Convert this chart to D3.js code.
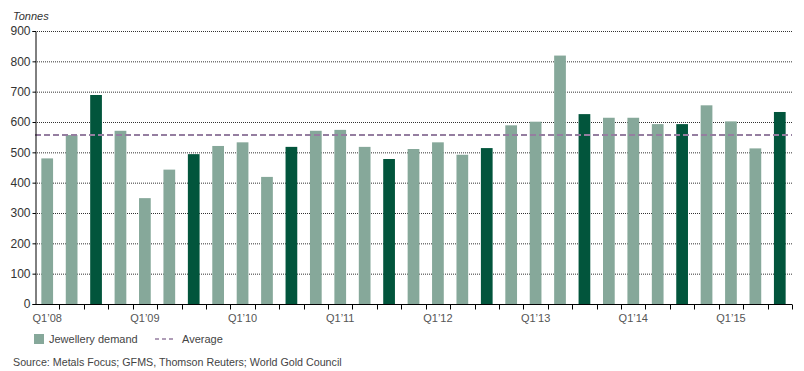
<!DOCTYPE html>
<html>
<head>
<meta charset="utf-8">
<script src="https://cdn.jsdelivr.net/npm/d3@7"></script>
<style>
body{margin:0;background:#fff;}
svg{font-family:"Liberation Sans",Arial,sans-serif;}
</style>
</head>
<body>
<svg id="chart" width="804" height="371"></svg>
<script>
// quarterly jewellery demand, Q1'08 .. Q3'15
const quarters = ['Q1','Q2','Q3','Q4'];
const years = ['08','09','10','11','12','13','14','15'];
const demand = [480,557,689,571, 349,443,494,521, 533,419,518,571, 574,518,478,511,
	533,492,514,589, 601,819,626,614, 614,593,593,655, 602,513,633];
const average = [557];
const yTicks = [0,100,200,300,400,500,600,700,800,900];

const periods = [];
years.forEach(y=>quarters.forEach(q=>periods.push(q+'’'+y)));
const data = demand.map((v,i)=>({period:periods[i],value:v,highlight:(i%4)==2}));

const svg = d3.select('#chart');
const margin = {left:35,right:12,top:31,bottom:67};
const width = 804, height = 371;

const x = d3.scaleBand()
	.domain(data.map(d=>d.period))
	.range([margin.left,width-margin.right])
	.paddingInner(0.52)
	.paddingOuter(0.26);
const y = d3.scaleLinear()
	.domain([0,900])
	.range([height-margin.bottom,margin.top]);

const light = '#86a89a';
const dark = '#02553c';
const avgColor = '#957ea0';

// dotted grid
svg.append('g')
	.selectAll('line')
	.data(yTicks.filter(t=>t>0))
	.join('line')
		.attr('x1',margin.left).attr('x2',width-margin.right)
		.attr('y1',d=>y(d)+0.5).attr('y2',d=>y(d)+0.5)
		.attr('stroke','#333')
		.attr('stroke-dasharray','1,1');

svg.append('g')
	.selectAll('rect')
	.data(data)
	.join('rect')
		.attr('x',d=>x(d.period))
		.attr('width',x.bandwidth())
		.attr('y',d=>y(d.value))
		.attr('height',d=>y(0)-y(d.value))
		.attr('fill',d=>d.highlight ? dark : light);

// average line
svg.append('line')
	.attr('x1',margin.left).attr('x2',width-margin.right)
	.attr('y1',y(average[0])).attr('y2',y(average[0]))
	.attr('stroke',avgColor)
	.attr('stroke-width',2)
	.attr('stroke-dasharray','6,3');

// y axis
const yAxis = svg.append('g')
	.attr('transform','translate('+(margin.left+0.5)+',0)')
	.call(d3.axisLeft(y).tickValues(yTicks).tickSize(3).tickPadding(2));
yAxis.select('.domain').attr('stroke','#000');
yAxis.selectAll('.tick line').attr('stroke','#000');
yAxis.selectAll('text').attr('font-size',12).attr('fill','#333');

// x axis: ticks at band edges, labels on Q1
const xAxisG = svg.append('g').attr('transform','translate(0,'+(y(0)+0.5)+')');
xAxisG.append('line')
	.attr('x1',margin.left).attr('x2',width-margin.right)
	.attr('stroke','#000');
const edges = d3.range(data.length+1).map(i=>margin.left+i*(width-margin.left-margin.right)/data.length);
xAxisG.selectAll('line.tick')
	.data(edges.slice(1))
	.join('line')
		.classed('tick',true)
		.attr('x1',d=>Math.round(d)+0.5).attr('x2',d=>Math.round(d)+0.5)
		.attr('y1',0).attr('y2',5)
		.attr('stroke','#000');
xAxisG.selectAll('text')
	.data(data.filter(d=>d.period.startsWith('Q1')))
	.join('text')
		.attr('x',d=>x(d.period)+x.bandwidth()/2)
		.attr('y',17)
		.attr('text-anchor','middle')
		.attr('font-size',11)
		.attr('fill','#555')
		.text(d=>d.period);

// unit label
svg.append('text')
	.attr('x',13).attr('y',20)
	.attr('font-size',11)
	.attr('font-style','italic')
	.attr('fill','#333')
	.text('Tonnes');

// legend
const legend = svg.append('g');
legend.append('rect')
	.attr('x',34).attr('y',334).attr('width',10).attr('height',10)
	.attr('fill',light);
legend.append('text')
	.attr('x',49).attr('y',343)
	.attr('font-size',11).attr('fill','#444')
	.text('Jewellery demand');
legend.append('line')
	.attr('x1',155).attr('x2',173).attr('y1',339).attr('y2',339)
	.attr('stroke',avgColor).attr('stroke-width',1.5)
	.attr('stroke-dasharray','4,3');
legend.append('text')
	.attr('x',182).attr('y',343)
	.attr('font-size',11).attr('fill','#444')
	.text('Average');

svg.append('text')
	.attr('x',13).attr('y',366)
	.attr('font-size',10.7)
	.attr('fill','#444')
	.text('Source: Metals Focus; GFMS, Thomson Reuters; World Gold Council');
</script>
</body>
</html>
